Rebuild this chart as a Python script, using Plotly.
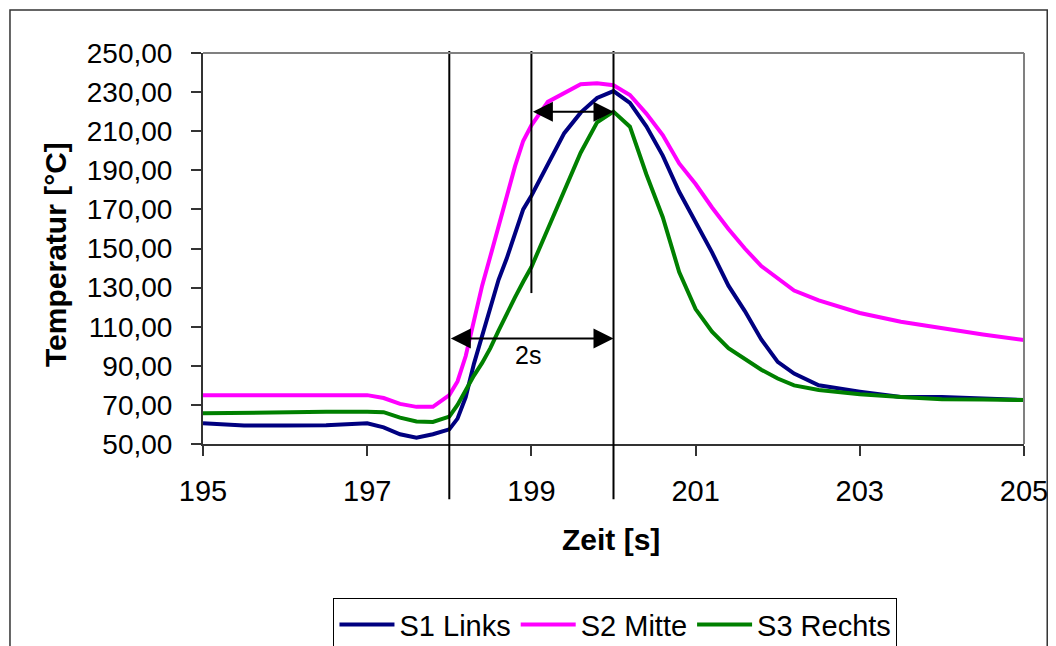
import plotly.graph_objects as go

time_s = [195.0, 195.5, 196.0, 196.5, 197.0, 197.2, 197.4, 197.6, 197.8, 198.0,
          198.1, 198.2, 198.3, 198.4, 198.5, 198.6, 198.7, 198.8, 198.9, 199.0,
          199.2, 199.4, 199.6, 199.8, 200.0, 200.2, 200.4, 200.6, 200.8, 201.0,
          201.2, 201.4, 201.6, 201.8, 202.0, 202.2, 202.5, 203.0, 203.5, 204.0,
          204.5, 205.0]

s1_links = [60.6, 59.5, 59.5, 59.6, 60.6, 58.5, 55.0, 53.2, 55.0, 57.5,
            63.0, 74.0, 91.0, 105.0, 120.0, 134.0, 145.0, 158.0, 170.0, 177.0,
            193.0, 209.0, 219.5, 227.0, 230.5, 224.5, 212.5, 197.5, 179.0, 164.0,
            148.0, 131.0, 118.0, 103.5, 92.0, 86.0, 80.0, 76.8, 74.0, 74.0,
            73.0, 72.5]

s2_mitte = [75.0, 75.0, 75.0, 75.0, 75.0, 73.5, 70.5, 69.0, 69.0, 75.0,
            82.0, 95.0, 113.0, 131.0, 146.0, 161.0, 176.5, 192.0, 205.0, 213.0,
            225.0, 229.5, 234.0, 234.5, 233.5, 228.5, 219.0, 208.0, 193.5, 183.0,
            171.0, 160.0, 150.0, 141.0, 134.5, 128.5, 123.5, 117.0, 112.5, 109.2,
            106.0, 103.2]

s3_rechts = [65.7, 66.0, 66.5, 66.5, 66.5, 66.3, 63.5, 61.5, 61.3, 64.0,
             70.0, 78.0, 85.0, 91.5, 99.0, 108.0, 117.0, 125.0, 133.0, 140.5,
             160.0, 179.0, 199.0, 214.5, 220.0, 212.3, 188.0, 166.0, 138.0, 119.0,
             107.5, 99.0, 93.5, 88.0, 83.5, 80.0, 77.6, 75.5, 74.0, 72.9,
             72.7, 72.5]

series_names = ["S1 Links", "S2 Mitte", "S3 Rechts"]
series_colors = ["#000080", "#FF00FF", "#008000"]

y_ticks = [50, 70, 90, 110, 130, 150, 170, 190, 210, 230, 250]
y_tick_labels = ["50,00", "70,00", "90,00", "110,00", "130,00", "150,00",
                 "170,00", "190,00", "210,00", "230,00", "250,00"]
x_ticks = [195, 197, 199, 201, 203, 205]

marker_start = 198.0
marker_mid = 199.0
marker_end = 200.0
span_level = 104.0
peak_level = 220.0
span_label = "2s"

FONT = "Liberation Sans, Arial, sans-serif"

fig = go.Figure()
for name, vals, col in zip(series_names, [s1_links, s2_mitte, s3_rechts], series_colors):
    fig.add_trace(go.Scatter(x=time_s, y=vals, mode="lines", name=name,
                             line=dict(color=col, width=4)))

# vertical marker lines
fig.add_shape(type="line", xref="x", yref="paper", x0=marker_start, x1=marker_start,
              y0=-0.141, y1=1.005, line=dict(color="black", width=2))
fig.add_shape(type="line", xref="x", yref="paper", x0=marker_end, x1=marker_end,
              y0=-0.141, y1=1.005, line=dict(color="black", width=2))
fig.add_shape(type="line", xref="x", yref="paper", x0=marker_mid, x1=marker_mid,
              y0=0.386, y1=1.005, line=dict(color="black", width=2))

# plot area border (top / right gray)
fig.add_shape(type="line", xref="paper", yref="paper", x0=0, x1=1, y0=1, y1=1,
              line=dict(color="#808080", width=2))
fig.add_shape(type="line", xref="paper", yref="paper", x0=1, x1=1, y0=0, y1=1,
              line=dict(color="#808080", width=2))

# outer chart frame
fig.add_shape(type="rect", xref="paper", yref="paper", x0=-0.2351, x1=1.0283,
              y0=-0.56, y1=1.11, line=dict(color="#333333", width=1.5), layer="below")

# double arrows
for x0, x1, yv in [(marker_start, marker_end, span_level), (marker_mid, marker_end, peak_level)]:
    fig.add_annotation(x=x1, y=yv, ax=x0, ay=yv, xref="x", yref="y", axref="x", ayref="y",
                       text="", showarrow=True, arrowhead=2, startarrowhead=2,
                       arrowside="end+start", arrowsize=2.0, startarrowsize=2.0,
                       arrowwidth=2, arrowcolor="black")

fig.add_annotation(x=198.96, y=95.5, xref="x", yref="y", text=span_label, showarrow=False,
                   font=dict(family=FONT, size=25, color="black"))

# axis titles
fig.add_annotation(x=0.497, y=-0.245, xref="paper", yref="paper", text="<b>Zeit [s]</b>",
                   showarrow=False, xanchor="center", yanchor="middle",
                   font=dict(family=FONT, size=30, color="black"))
fig.add_annotation(x=-0.1795, y=0.485, xref="paper", yref="paper",
                   text="<b>Temperatur [°C]</b>", showarrow=False, textangle=-90,
                   xanchor="center", yanchor="middle",
                   font=dict(family=FONT, size=30, color="black"))

fig.update_layout(
    width=1056, height=646,
    margin=dict(l=203, r=32, t=53, b=202, autoexpand=False),
    paper_bgcolor="white", plot_bgcolor="white",
    font=dict(family=FONT, size=28, color="black"),
    showlegend=True,
    legend=dict(orientation="h", x=0.5024, xanchor="center", y=-0.394, yanchor="top",
                bordercolor="black", borderwidth=1, bgcolor="white",
                font=dict(family=FONT, size=29, color="black"),
                itemwidth=55, tracegroupgap=0),
    xaxis=dict(range=[195, 205], tickmode="array", tickvals=x_ticks,
               ticktext=[str(t) for t in x_ticks], showgrid=False, zeroline=False,
               showline=True, linecolor="#333333", linewidth=2,
               ticks="outside", ticklen=10, tickwidth=1.5, tickcolor="#333333",
               ticklabelstandoff=10, tickfont=dict(size=29)),
    yaxis=dict(range=[50, 250], tickmode="array", tickvals=y_ticks,
               ticktext=y_tick_labels, showgrid=False, zeroline=False,
               showline=True, linecolor="#333333", linewidth=2,
               ticks="outside", ticklen=10, tickwidth=1.5, tickcolor="#333333",
               ticklabelstandoff=13, tickfont=dict(size=28)),
)

fig.write_html("out.html", config={"displayModeBar": False},
               post_script="document.body.style.margin='0';document.body.style.overflow='hidden';")
